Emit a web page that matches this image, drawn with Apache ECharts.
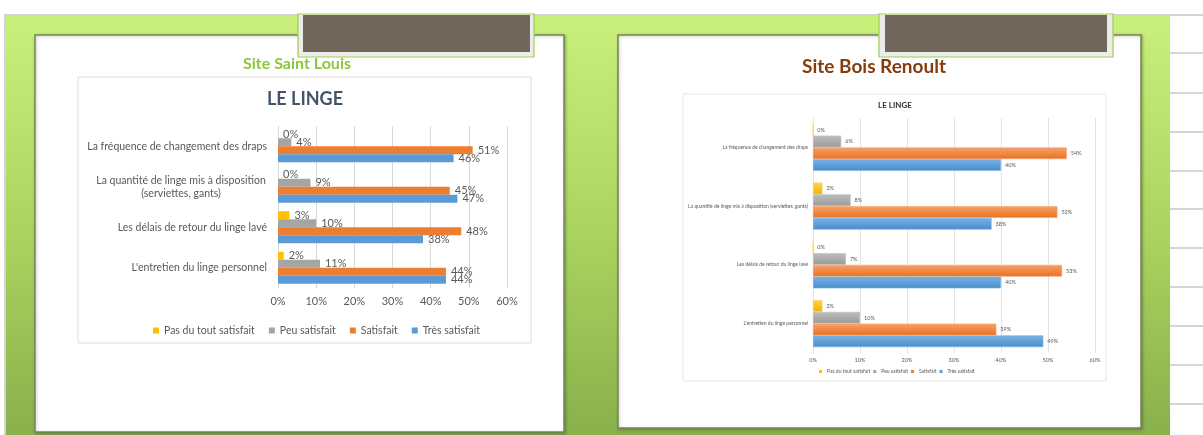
<!DOCTYPE html>
<html>
<head>
<meta charset="utf-8">
<title>Le linge</title>
<script src="https://cdn.jsdelivr.net/npm/echarts@6/dist/echarts.min.js"></script>
<style>
  html, body { margin: 0; padding: 0; background: #fff; }
  #chart { width: 1203px; height: 435px; }
</style>
</head>
<body>
<div id="chart"></div>
<script>
// --- data -------------------------------------------------------------
const seriesNames = ["Pas du tout satisfait", "Peu satisfait", "Satisfait", "Très satisfait"];

const catStLouis = [
  "La fréquence de changement des draps",
  "La quantité de linge mis à disposition\n(serviettes, gants)",
  "Les délais de retour du linge lavé",
  "L'entretien du linge personnel",
];
const catBoisRenoult = [
  "La fréquence de changement des draps",
  "La quantité de linge mis à disposition (serviettes, gants)",
  "Les délais de retour du linge lavé",
  "L'entretien du linge personnel",
];

// Site Saint Louis (%)
const pasStLouis = [0, 0, 3, 1.5];
const peuStLouis = [3.5, 8.5, 10, 11];
const satStLouis = [51, 45, 48, 44];
const tresStLouis = [46, 47, 38, 44];

// Site Bois Renoult (%)
const pasBoisRenoult = [0, 2, 0, 2];
const peuBoisRenoult = [6, 8, 7, 10];
const satBoisRenoult = [54, 52, 53, 39];
const tresBoisRenoult = [40, 38, 40, 49];

const axisMin = 0, axisMax = 60, axisStep = 10;

const colors = ["#ffc000", "#a5a5a5", "#ed7d31", "#5b9bd5"];
const gradTop = ["#ffd24d", "#bdbdbd", "#f6a26a", "#79b1e3"];
const gradBottom = ["#f0b400", "#9a9a9a", "#e8711f", "#4a8ccd"];

const txt = "#595959";
const font = "Lato, 'Noto Sans', sans-serif";

// --- series -----------------------------------------------------------
function leftSeries(name, data, i) {
  return {
    name, type: "bar", data, xAxisIndex: 0, yAxisIndex: 0, z: 4,
    barGap: "0%", barCategoryGap: "21%",
    itemStyle: { color: colors[i] },
    label: {
      show: true, position: "right", distance: 5,
      color: txt, fontSize: 11, fontFamily: font,
      formatter: p => Math.round(p.value) + "%",
    },
  };
}
function rightSeries(name, data, i) {
  return {
    name, type: "bar", data, xAxisIndex: 1, yAxisIndex: 1, z: 4,
    barGap: "0%", barCategoryGap: "20%",
    itemStyle: {
      color: { type: "linear", x: 0, y: 0, x2: 0, y2: 1,
        colorStops: [{ offset: 0, color: gradTop[i] }, { offset: 1, color: gradBottom[i] }] },
      borderColor: gradTop[i], borderWidth: 0.6,
    },
    label: {
      show: true, position: "right", distance: 4,
      color: txt, fontSize: 5.5, fontFamily: font,
      formatter: p => Math.round(p.value) + "%",
    },
  };
}

const left = [pasStLouis, peuStLouis, satStLouis, tresStLouis];
const right = [pasBoisRenoult, peuBoisRenoult, satBoisRenoult, tresBoisRenoult];
const series = [];
seriesNames.forEach((n, i) => series.push(leftSeries(n, left[i], i)));
seriesNames.forEach((n, i) => series.push(rightSeries(n, right[i], i)));

// --- decoration (slides) ---------------------------------------------
const stripLines = [53, 93, 132, 171, 209, 248, 287, 326, 365, 404].map(y => ({
  type: "rect", z: 0, silent: true,
  shape: { x: 1170, y: y - 1, width: 33, height: 2 },
  style: { fill: "#d6d6d6" },
}));

const panelStyle = { fill: "#fff", stroke: "#76875a", lineWidth: 1.5, shadowBlur: 3,
  shadowColor: "rgba(0,0,0,0.25)", shadowOffsetX: 1, shadowOffsetY: 1 };

const graphic = [
  { type: "rect", z: 0, silent: true, shape: { x: 0, y: 0, width: 1203, height: 435 }, style: { fill: "#fff" } },
  { type: "rect", z: 0, silent: true, shape: { x: 6, y: 16, width: 1164, height: 419 },
    style: { fill: { type: "linear", x: 0, y: 0, x2: 0, y2: 1,
      colorStops: [{ offset: 0, color: "#c9f07a" }, { offset: 0.5, color: "#acd560" }, { offset: 1, color: "#8ab04c" }] } } },
  { type: "rect", z: 0, silent: true, shape: { x: 4, y: 14, width: 1199, height: 2 }, style: { fill: "#d4d4d4" } },
  { type: "rect", z: 0, silent: true, shape: { x: 4, y: 14, width: 2, height: 421 }, style: { fill: "#d4d4d4" } },
  ...stripLines,
  // slide panels
  { type: "rect", z: 1, silent: true, shape: { x: 35, y: 35, width: 529, height: 397 }, style: panelStyle },
  { type: "rect", z: 1, silent: true, shape: { x: 618, y: 35, width: 523, height: 393 }, style: panelStyle },
  // brown header boxes
  { type: "rect", z: 2, silent: true, shape: { x: 298, y: 14, width: 236, height: 43 }, style: { fill: "#ececec", stroke: "#9ccf4e", lineWidth: 1.2 } },
  { type: "rect", z: 2, silent: true, shape: { x: 303, y: 15, width: 227, height: 37 }, style: { fill: "#71675a" } },
  { type: "rect", z: 2, silent: true, shape: { x: 879, y: 14, width: 234, height: 43 }, style: { fill: "#ececec", stroke: "#9ccf4e", lineWidth: 1.2 } },
  { type: "rect", z: 2, silent: true, shape: { x: 885, y: 15, width: 222, height: 37 }, style: { fill: "#71675a" } },
  // chart frames
  { type: "rect", z: 2, silent: true, shape: { x: 78, y: 77, width: 453, height: 266 }, style: { fill: "#fff", stroke: "#dedede", lineWidth: 1 } },
  { type: "rect", z: 2, silent: true, shape: { x: 683, y: 94, width: 423, height: 287 }, style: { fill: "#fff", stroke: "#e6e6e6", lineWidth: 1 } },
];

// --- chart ------------------------------------------------------------
const chart = echarts.init(document.getElementById("chart"), null, { renderer: "canvas" });

chart.setOption({
  animation: false,
  graphic,
  title: [
    { text: "Site Saint Louis", left: 297, top: 56, textAlign: "center", padding: 0, z: 6,
      textStyle: { color: "#8cc63e", fontSize: 16, fontWeight: "bold", fontFamily: font } },
    { text: "LE LINGE", left: 305, top: 90, textAlign: "center", padding: 0, z: 6,
      textStyle: { color: "#44546a", fontSize: 18, fontWeight: "bold", fontFamily: font } },
    { text: "Site Bois Renoult", left: 874, top: 57, textAlign: "center", padding: 0, z: 6,
      textStyle: { color: "#843c0c", fontSize: 19, fontWeight: "bold", fontFamily: font } },
    { text: "LE LINGE", left: 895, top: 101, textAlign: "center", padding: 0, z: 6,
      textStyle: { color: "#333", fontSize: 8, fontWeight: "bold", fontFamily: font } },
  ],
  legend: [
    { data: seriesNames, left: 148, top: 320, z: 6, icon: "rect", itemWidth: 6, itemHeight: 6, itemGap: 14,
      textStyle: { color: txt, fontSize: 10.5, fontFamily: font } },
    { data: seriesNames, left: 819, top: 369, z: 6, icon: "rect", itemWidth: 3, itemHeight: 3, itemGap: 3, padding: 0,
      textStyle: { color: txt, fontSize: 5, fontFamily: font } },
  ],
  grid: [
    { left: 278, top: 126, width: 229, height: 162 },
    { left: 813, top: 118, width: 282, height: 235 },
  ],
  xAxis: [
    { gridIndex: 0, type: "value", min: axisMin, max: axisMax, interval: axisStep, z: 3,
      axisLine: { show: false }, axisTick: { show: false },
      splitLine: { lineStyle: { color: "#d9d9d9" } },
      axisLabel: { formatter: "{value}%", color: txt, fontSize: 11, fontFamily: font, margin: 8 } },
    { gridIndex: 1, type: "value", min: axisMin, max: axisMax, interval: axisStep, z: 3,
      axisLine: { show: false }, axisTick: { show: false },
      splitLine: { lineStyle: { color: "#e3e3e3" } },
      axisLabel: { formatter: "{value}%", color: txt, fontSize: 5.5, fontFamily: font, margin: 4 } },
  ],
  yAxis: [
    { gridIndex: 0, type: "category", data: catStLouis, inverse: true, z: 3,
      axisLine: { show: true, lineStyle: { color: "#d9d9d9" } }, axisTick: { show: false },
      axisLabel: {
        color: txt, fontSize: 10.5, fontFamily: font, margin: 11, lineHeight: 13,
        formatter: v => v.includes("\n") ? v.split("\n").map(s => "{c|" + s + "}").join("\n") : v,
        rich: { c: { width: 172, align: "center", color: txt, fontSize: 10.5, fontFamily: font, lineHeight: 13 } },
      } },
    { gridIndex: 1, type: "category", data: catBoisRenoult, inverse: true, z: 3,
      axisLine: { show: true, lineStyle: { color: "#e3e3e3" } }, axisTick: { show: false },
      axisLabel: { color: txt, fontSize: 5, fontFamily: font, margin: 5 } },
  ],
  series,
});
</script>
</body>
</html>
